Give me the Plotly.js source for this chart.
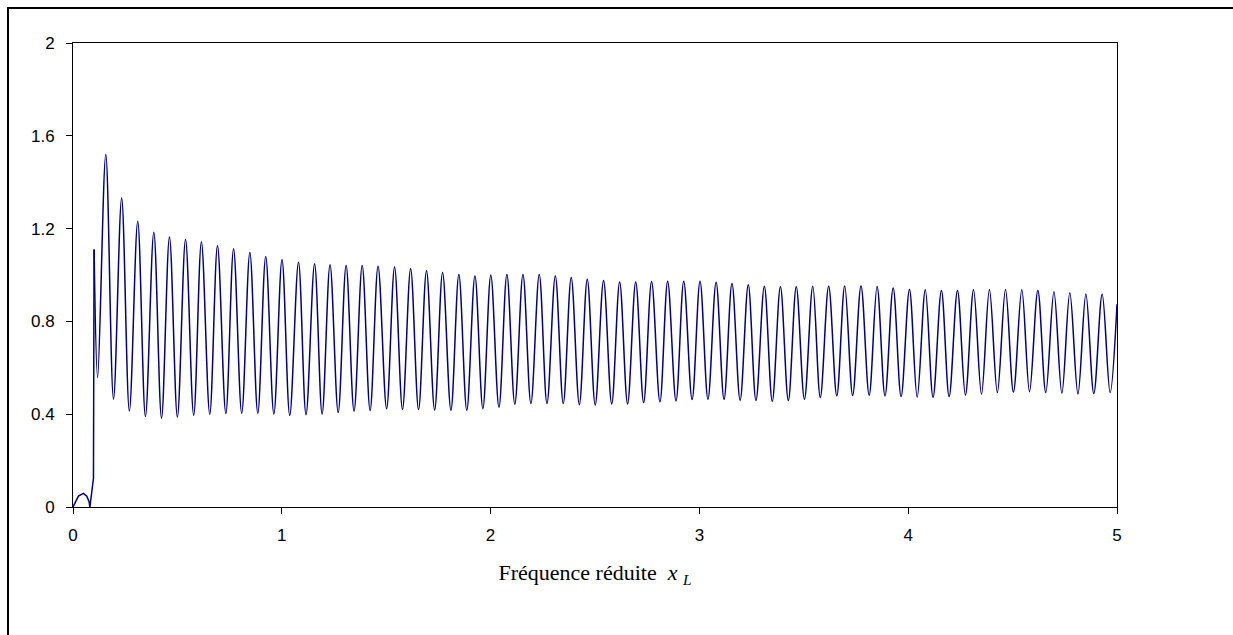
<!DOCTYPE html>
<html>
<head>
<meta charset="utf-8">
<script src="https://cdn.plot.ly/plotly-3.0.1.min.js"></script>
<style>
  html, body { margin: 0; padding: 0; background: #fff; overflow: hidden; }
  #chart { position: absolute; left: 0; top: 0; width: 1233px; height: 635px; }
  #frame { position: absolute; left: 7px; top: 7px; width: 1300px; height: 700px;
           border: 2px solid #000; pointer-events: none; box-sizing: border-box; }
</style>
</head>
<body>
<div id="chart"></div>
<div id="frame"></div>
<script>
// Lead-in part of the curve (before the first spike)
const leadX = [0, 0.010, 0.026, 0.050, 0.066, 0.077, 0.081, 0.098];
const leadY = [0, 0.016, 0.047, 0.059, 0.047, 0.023, 0, 0.124];

// Local maxima of the oscillation
const peakX = [0.101, 0.157, 0.233, 0.310, 0.387, 0.462, 0.539, 0.615, 0.692, 0.769, 0.847, 0.923,
  1.001, 1.080, 1.157, 1.231, 1.308, 1.385, 1.461, 1.540, 1.617, 1.693, 1.770, 1.848, 1.925,
  2.001, 2.078, 2.155, 2.233, 2.310, 2.386, 2.463, 2.541, 2.618, 2.695, 2.771, 2.848, 2.925,
  3.003, 3.080, 3.156, 3.234, 3.311, 3.388, 3.464, 3.543, 3.619, 3.696, 3.774, 3.851, 3.928,
  4.006, 4.082, 4.159, 4.236, 4.313, 4.389, 4.466, 4.544, 4.621, 4.698, 4.774, 4.851, 4.929];
const peakY = [1.110, 1.519, 1.332, 1.232, 1.184, 1.164, 1.153, 1.143, 1.127, 1.113, 1.097, 1.080,
  1.067, 1.055, 1.048, 1.044, 1.041, 1.041, 1.038, 1.034, 1.027, 1.018, 1.011, 1.002, 0.996,
  0.999, 1.002, 1.002, 1.002, 0.996, 0.989, 0.982, 0.976, 0.970, 0.970, 0.972, 0.973, 0.973,
  0.973, 0.969, 0.963, 0.958, 0.951, 0.949, 0.949, 0.951, 0.951, 0.953, 0.953, 0.950, 0.944,
  0.938, 0.936, 0.933, 0.933, 0.936, 0.937, 0.937, 0.936, 0.933, 0.928, 0.923, 0.918, 0.917];

// Local minima of the oscillation
const troughX = [0.118, 0.194, 0.270, 0.347, 0.424, 0.500, 0.578, 0.655, 0.732, 0.808, 0.885, 0.962,
  1.038, 1.116, 1.193, 1.270, 1.346, 1.423, 1.502, 1.578, 1.655, 1.732, 1.810, 1.886, 1.963,
  2.040, 2.116, 2.193, 2.270, 2.348, 2.425, 2.501, 2.580, 2.656, 2.733, 2.811, 2.888, 2.965,
  3.041, 3.118, 3.195, 3.271, 3.349, 3.426, 3.503, 3.579, 3.658, 3.734, 3.813, 3.889, 3.966,
  4.043, 4.119, 4.196, 4.274, 4.351, 4.427, 4.504, 4.581, 4.659, 4.736, 4.813, 4.889, 4.967];
const troughY = [0.558, 0.464, 0.414, 0.390, 0.383, 0.388, 0.395, 0.400, 0.403, 0.404, 0.404, 0.401,
  0.395, 0.398, 0.401, 0.407, 0.413, 0.416, 0.424, 0.421, 0.420, 0.418, 0.417, 0.417, 0.424,
  0.430, 0.443, 0.446, 0.446, 0.446, 0.441, 0.440, 0.444, 0.444, 0.450, 0.453, 0.457, 0.463,
  0.464, 0.464, 0.460, 0.459, 0.456, 0.459, 0.464, 0.472, 0.479, 0.481, 0.482, 0.479, 0.476,
  0.473, 0.473, 0.476, 0.482, 0.486, 0.493, 0.496, 0.497, 0.493, 0.490, 0.487, 0.489, 0.493];

// Last sample at the right edge
const endX = [5.0];
const endY = [0.874];

const xTicks = [0, 1, 2, 3, 4, 5];
const yTicks = [0, 0.4, 0.8, 1.2, 1.6, 2];

// Build the oscillating part: peak, trough, peak, trough ... then end point
const oscX = [], oscY = [];
for (let i = 0; i < peakX.length; i++) {
  oscX.push(peakX[i]); oscY.push(peakY[i]);
  oscX.push(troughX[i]); oscY.push(troughY[i]);
}
oscX.push(...endX); oscY.push(...endY);

const lineStyle = { color: '#000080', width: 1.5 };

const traces = [
  { x: leadX.concat([peakX[0]]), y: leadY.concat([peakY[0]]), type: 'scatter', mode: 'lines',
    line: Object.assign({ shape: 'linear' }, lineStyle), hoverinfo: 'skip' },
  { x: oscX, y: oscY, type: 'scatter', mode: 'lines',
    line: Object.assign({ shape: 'spline', smoothing: 1 }, lineStyle), hoverinfo: 'skip' }
];

const axisCommon = {
  showgrid: false, zeroline: false, showline: true, linecolor: '#000', linewidth: 1,
  mirror: true, ticks: 'outside', tickcolor: '#000', ticklen: 6, tickwidth: 1,
  tickfont: { family: 'Liberation Sans, Arial, sans-serif', size: 17, color: '#000' }
};

const layout = {
  width: 1233, height: 635,
  margin: { l: 73, r: 116, t: 43, b: 128, pad: 0 },
  paper_bgcolor: '#fff', plot_bgcolor: '#fff',
  showlegend: false,
  xaxis: Object.assign({}, axisCommon, {
    range: [0, 5], tickvals: xTicks, ticktext: xTicks.map(String),
    ticklabelstandoff: 7,
    title: { text: 'Fréquence réduite  <i>x</i> <sub><i>L</i></sub>', standoff: 20,
             font: { family: 'Liberation Serif, Times New Roman, serif', size: 22, color: '#000' } }
  }),
  yaxis: Object.assign({}, axisCommon, {
    range: [0, 2], tickvals: yTicks, ticktext: yTicks.map(String),
    ticklabelstandoff: 8
  })
};

Plotly.newPlot('chart', traces, layout, { staticPlot: true, displayModeBar: false });
</script>
</body>
</html>
